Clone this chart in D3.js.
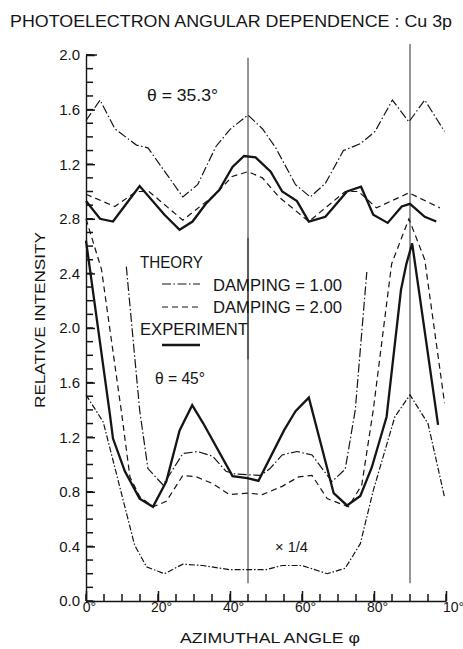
<!DOCTYPE html>
<html>
<head>
<meta charset="utf-8">
<script src="https://cdn.jsdelivr.net/npm/d3@7"></script>
<style>
  body { margin: 0; background: #fff; }
  svg { display: block; font-family: "Liberation Sans", "DejaVu Sans", sans-serif; }
</style>
</head>
<body>
<svg id="chart" width="463" height="649"></svg>
<script>
// Upper panel, theta = 35.3 deg (values in the upper axis units 0.8 .. 2.0)
const upPhiD1 = [0, 3.9, 8, 14, 17.2, 26.9, 31, 36.1, 40.2, 45, 49, 52.7, 58.2, 62.3, 66.5, 71.5, 76.2, 80.3, 85.1, 89.7, 94.1, 99.6];
const upD1    = [1.52, 1.67, 1.46, 1.34, 1.32, 0.96, 1.05, 1.33, 1.46, 1.56, 1.46, 1.32, 1.05, 0.96, 1.06, 1.30, 1.35, 1.44, 1.67, 1.51, 1.67, 1.44];

const upPhiD2 = [0, 8, 14, 17.5, 26.9, 36, 40.6, 45, 49, 53.6, 61.9, 72, 75.7, 80.7, 89.7, 98.3];
const upD2    = [0.98, 0.89, 1.0, 1.0, 0.79, 0.98, 1.11, 1.145, 1.10, 0.96, 0.78, 1.0, 1.0, 0.88, 0.99, 0.88];

const upPhiExp = [0, 3.9, 7.5, 11.2, 14.9, 21.8, 26, 29.6, 33.3, 37, 40.7, 43.9, 47.1, 51.3, 54.5, 58.6, 61.9, 66.5, 72.5, 76.4, 79.8, 83.8, 87.7, 90, 94.1, 97.3];
const upExp    = [0.93, 0.80, 0.78, 0.91, 1.04, 0.83, 0.72, 0.78, 0.91, 1.01, 1.18, 1.26, 1.25, 1.145, 1.0, 0.93, 0.78, 0.815, 1.0, 1.035, 0.83, 0.77, 0.89, 0.91, 0.815, 0.78];

// Lower panel, theta = 45 deg
const loPhiD1 = [11.2, 14.9, 17.2, 21.4, 26.9, 31, 35.2, 38.9, 41.5, 45, 48.5, 51.1, 54.5, 58.6, 62.8, 68.3, 72, 74.8, 78];
const loD1    = [2.45, 1.40, 0.97, 0.85, 1.08, 1.095, 1.06, 0.95, 0.93, 0.925, 0.92, 0.97, 1.07, 1.095, 1.07, 0.875, 0.965, 1.40, 2.41];

const loPhiQuarter = [0, 2.9, 4.8, 13.5, 16.8, 21.8, 26.9, 32.4, 39.8, 45, 50, 54.5, 60, 67, 72, 76.2, 79.8, 85.8, 90, 95, 99.6];
const loQuarter    = [1.51, 1.39, 1.31, 0.41, 0.25, 0.20, 0.27, 0.26, 0.23, 0.23, 0.23, 0.26, 0.26, 0.20, 0.24, 0.42, 0.81, 1.35, 1.51, 1.30, 0.76];

const loPhiD2 = [0, 4.3, 9.9, 12.2, 14.9, 18.6, 22.3, 26.9, 30.6, 35.2, 39.8, 45, 49, 54.5, 59.1, 62.8, 67, 72.9, 76.6, 79.8, 84.9, 89.7, 94.1, 99.6];
const loD2    = [2.80, 2.43, 1.375, 0.91, 0.765, 0.69, 0.73, 0.92, 0.91, 0.86, 0.78, 0.79, 0.78, 0.84, 0.91, 0.92, 0.75, 0.69, 0.85, 1.40, 2.47, 2.80, 2.50, 1.45];

const loPhiExp = [0, 6.6, 7.5, 10.8, 14.9, 18.6, 22.3, 26, 29.5, 32.6, 40.7, 44.8, 47.9, 55, 58.2, 61.9, 68.8, 72.5, 76.2, 79.4, 83.5, 87.5, 89, 90.6, 97.8];
const loExp    = [2.64, 1.375, 1.19, 0.95, 0.75, 0.69, 0.875, 1.25, 1.435, 1.30, 0.915, 0.90, 0.88, 1.25, 1.39, 1.49, 0.79, 0.70, 0.77, 0.98, 1.35, 2.28, 2.47, 2.62, 1.29];

// axis ticks
const yTickValues = [0, 0.4, 0.8, 1.2, 1.6, 2.0, 2.4, 2.8, 3.2, 3.6, 4.0];
const yTickLabels = ["0.0", "0.4", "0.8", "1.2", "1.6", "2.0", "2.4", "2.8", "1.2", "1.6", "2.0"];
const yMinorValues = d3.range(0, 41).map(i => i / 10);
const xTickValues = [0, 20, 40, 60, 80, 100];
const xTickLabels = ["0°", "20°", "40°", "60°", "80°", "10°"];
const xMinorValues = d3.range(0, 101, 5);

// vertical reference lines: [phi, from, to] in lower-axis units
const refLines = [[45, 0.13, 2.66], [45, 1.77, 3.98], [90, 0.13, 4.08]];

const svg = d3.select('#chart');
const INK = '#151515';

const x = d3.scaleLinear().domain([0, 100]).range([86, 446]);
const y = d3.scaleLinear().domain([0, 4.0]).range([601, 55]);
// upper panel uses its own labels, sitting on top of the lower scale
const yUp = d3.scaleLinear().domain([0.8, 2.0]).range([y(2.8), y(4.0)]);

// title
svg.append('text')
  .attr('x', 10).attr('y', 27)
  .attr('font-size', 17)
  .attr('textLength', 442).attr('lengthAdjust', 'spacingAndGlyphs')
  .attr('fill', INK)
  .text('PHOTOELECTRON ANGULAR  DEPENDENCE : Cu 3p');

// reference lines
svg.append('g').selectAll('line')
  .data(refLines).enter().append('line')
  .attr('x1', d => x(d[0])).attr('x2', d => x(d[0]))
  .attr('y1', d => y(d[1])).attr('y2', d => y(d[2]))
  .attr('stroke', INK).attr('stroke-width', 0.9);

// minor ticks, drawn straight from the scales (inward)
svg.append('g').selectAll('line')
  .data(yMinorValues).enter().append('line')
  .attr('x1', x(0)).attr('x2', x(0) + 7)
  .attr('y1', d => y(d)).attr('y2', d => y(d))
  .attr('stroke', INK).attr('stroke-width', 1.5);
svg.append('g').selectAll('line')
  .data(xMinorValues).enter().append('line')
  .attr('x1', d => x(d)).attr('x2', d => x(d))
  .attr('y1', y(0)).attr('y2', y(0) - 7)
  .attr('stroke', INK).attr('stroke-width', 1.5);

// y axis with labels
const yMajor = svg.append('g').attr('transform', `translate(${x(0)},0)`)
  .call(d3.axisLeft(y).tickValues(yTickValues).tickSize(-9).tickSizeOuter(0).tickPadding(6)
    .tickFormat((d, i) => yTickLabels[i]));
yMajor.selectAll('text').attr('font-size', 15).attr('fill', INK).attr('font-family', null);
// longer cap tick at the top
yMajor.append('line').attr('x1', 0).attr('x2', 11).attr('y1', y(4.0)).attr('y2', y(4.0))
  .attr('stroke', INK).attr('stroke-width', 1.4);

// x axis with labels
const xMajor = svg.append('g').attr('transform', `translate(0,${y(0)})`)
  .call(d3.axisBottom(x).tickValues(xTickValues).tickSize(-10).tickSizeOuter(0).tickPadding(1)
    .tickFormat((d, i) => xTickLabels[i]));
xMajor.selectAll('text').attr('font-size', 14).attr('fill', INK).attr('font-family', null)
  .attr('dx', (d, i) => i === xTickValues.length - 1 ? 7 : 3);

[yMajor, xMajor].forEach(g => {
  g.selectAll('path.domain').attr('stroke', INK).attr('stroke-width', 1.4);
  g.selectAll('.tick line').attr('stroke', INK).attr('stroke-width', 1.5);
});

// axis titles
svg.append('text')
  .attr('transform', 'translate(45,320) rotate(-90)')
  .attr('text-anchor', 'middle')
  .attr('font-size', 15)
  .attr('textLength', 176).attr('lengthAdjust', 'spacingAndGlyphs')
  .attr('fill', INK)
  .text('RELATIVE INTENSITY');

svg.append('text')
  .attr('x', 270).attr('y', 643)
  .attr('text-anchor', 'middle')
  .attr('font-size', 15)
  .attr('textLength', 180).attr('lengthAdjust', 'spacingAndGlyphs')
  .attr('fill', INK)
  .text('AZIMUTHAL ANGLE φ');

// line styles
const styles = {
  d1: { width: 1.2, dash: '9,2.5,1.5,2.5' },
  d2: { width: 1.2, dash: '6,4' },
  quarter: { width: 1.2, dash: '6,2,1.5,2' },
  exp: { width: 2.3, dash: null }
};

function drawSeries(phis, vals, yScale, style) {
  const line = d3.line().x(d => x(d[0])).y(d => yScale(d[1]));
  svg.append('path')
    .datum(phis.map((p, i) => [p, vals[i]]))
    .attr('d', line)
    .attr('fill', 'none')
    .attr('stroke', INK)
    .attr('stroke-width', style.width)
    .attr('stroke-linejoin', 'miter')
    .attr('stroke-dasharray', style.dash);
}

drawSeries(upPhiD1, upD1, yUp, styles.d1);
drawSeries(upPhiD2, upD2, yUp, styles.d2);
drawSeries(upPhiExp, upExp, yUp, styles.exp);

drawSeries(loPhiD1, loD1, y, styles.d1);
drawSeries(loPhiQuarter, loQuarter, y, styles.quarter);
drawSeries(loPhiD2, loD2, y, styles.d2);
drawSeries(loPhiExp, loExp, y, styles.exp);

// annotations
function label(txt, lx, ly, size, len) {
  const t = svg.append('text').attr('x', lx).attr('y', ly)
    .attr('font-size', size).attr('fill', INK).text(txt);
  if (len) t.attr('textLength', len).attr('lengthAdjust', 'spacingAndGlyphs');
  return t;
}

label('θ = 35.3°', 147, 101, 16, 71);
label('θ = 45°', 155, 384, 16, 50);
label('× 1/4', 275, 552, 15, 33);

// legend
label('THEORY', 140, 268, 17, 63);
label('DAMPING = 1.00', 213, 291, 17, 129);
label('DAMPING = 2.00', 213, 313, 17, 129);
label('EXPERIMENT', 140, 335, 17, 108);

const legendRows = [
  { y: 284, style: styles.d1 },
  { y: 307, style: styles.d2 },
  { y: 345, style: styles.exp }
];
svg.append('g').selectAll('line')
  .data(legendRows).enter().append('line')
  .attr('x1', 162).attr('x2', 200)
  .attr('y1', d => d.y).attr('y2', d => d.y)
  .attr('stroke', INK)
  .attr('stroke-width', d => d.style.width)
  .attr('stroke-dasharray', d => d.style.dash);
</script>
</body>
</html>
